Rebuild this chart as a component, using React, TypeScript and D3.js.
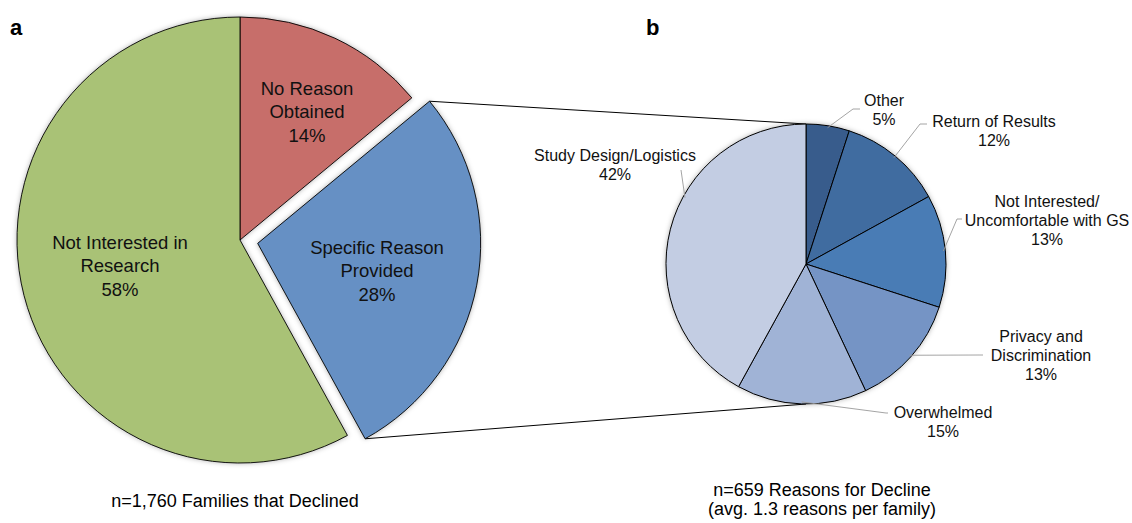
import React from 'react';
import * as d3 from 'd3';

// panel a
const declineGroups = ['No Reason\nObtained', 'Specific Reason\nProvided', 'Not Interested in\nResearch'];
const declineShares = [14, 28, 58];
const declineColors = ['#c76e6b', '#6690c4', '#a9c276'];

// panel b
const reasonLabels = [
  'Other',
  'Return of Results',
  'Not Interested/\nUncomfortable with GS',
  'Privacy and\nDiscrimination',
  'Overwhelmed',
  'Study Design/Logistics',
];
const reasonShares = [5, 12, 13, 13, 15, 42];
const reasonColors = ['#395c8c', '#416ca0', '#4a7bb5', '#7594c5', '#a0b3d6', '#c3cde3'];

const W = 1132;
const H = 523;
const FONT = '"Liberation Sans", Arial, Helvetica, sans-serif';

// layout of pie a
const A = { cx: 240, cy: 240, r: 223, explode: 18 };
// layout of pie b
const B = { cx: 806, cy: 264, r: 140 };

// label placement for panel a (centre of first line)
const aLabelPos = [
  [307, 88],
  [377, 247],
  [120, 242],
];

// label placement for panel b: text centre x, first baseline y, elbow point
const bLabelPos = [
  { x: 884, y: 106, elbow: [853, 109], end: [860, 109] },
  { x: 994, y: 127, elbow: [920, 124], end: [927, 124] },
  { x: 1047, y: 207, elbow: [957, 219], end: [962, 219] },
  { x: 1041, y: 342, elbow: [980, 355], end: [983, 355] },
  { x: 943, y: 418, elbow: [886, 413], end: [888, 413] },
  { x: 615, y: 161, elbow: [681, 170], end: [681, 170] },
];

const polar = (cx: number, cy: number, r: number, a: number): [number, number] => [
  cx + r * Math.sin(a),
  cy - r * Math.cos(a),
];

export default function App() {
  const pie = d3.pie<number>().sort(null).value((d) => d);
  const arcsA = pie(declineShares);
  const arcsB = pie(reasonShares);

  const arcA = d3.arc<d3.PieArcDatum<number>>().innerRadius(0).outerRadius(A.r);
  const arcB = d3.arc<d3.PieArcDatum<number>>().innerRadius(0).outerRadius(B.r);

  // exploded slice (specific reason)
  const ex = arcsA[1];
  const exMid = (ex.startAngle + ex.endAngle) / 2;
  const [ox, oy] = polar(0, 0, A.explode, exMid);
  const exTop = polar(A.cx + ox, A.cy + oy, A.r, ex.startAngle);
  const exBot = polar(A.cx + ox, A.cy + oy, A.r, ex.endAngle);
  const bTop = polar(B.cx, B.cy, B.r, 0);
  const bBot = polar(B.cx, B.cy, B.r, Math.PI);

  return (
    <svg
      width={W}
      height={H}
      style={{ position: 'absolute', left: 0, top: 0, background: '#fff' }}
      fontFamily={FONT}
    >
      <defs>
        <filter id="shadow" x="-10%" y="-10%" width="120%" height="120%">
          <feDropShadow dx="0" dy="0" stdDeviation="2.5" floodColor="#000" floodOpacity="0.3" />
        </filter>
      </defs>

      <text x={10} y={35} fontSize={22} fontWeight="bold">a</text>
      <text x={646} y={35} fontSize={22} fontWeight="bold">b</text>

      {/* connector lines */}
      <line x1={exTop[0]} y1={exTop[1]} x2={bTop[0]} y2={bTop[1]} stroke="#000" strokeWidth={1} />
      <line x1={exBot[0]} y1={exBot[1]} x2={bBot[0]} y2={bBot[1]} stroke="#000" strokeWidth={1} />

      {/* pie a */}
      <g transform={`translate(${A.cx},${A.cy})`} filter="url(#shadow)">
        {arcsA.map((d, i) => {
          const mid = (d.startAngle + d.endAngle) / 2;
          const [dx, dy] = i === 1 ? polar(0, 0, A.explode, mid) : [0, 0];
          return (
            <path
              key={i}
              d={arcA(d) as string}
              transform={`translate(${dx},${dy})`}
              fill={declineColors[i]}
              stroke="#000"
              strokeWidth={0.9}
            />
          );
        })}
      </g>
      {declineGroups.map((g, i) => {
        const lines = [...g.split('\n'), `${declineShares[i]}%`];
        const [x, y] = aLabelPos[i];
        return (
          <text key={i} x={x} textAnchor="middle" fontSize={18.5} fill="#111">
            {lines.map((l, j) => (
              <tspan key={j} x={x} y={y + 6.5 + j * 23.5}>{l}</tspan>
            ))}
          </text>
        );
      })}
      <text x={235} y={507} textAnchor="middle" fontSize={18}>n=1,760 Families that Declined</text>

      {/* pie b */}
      <g transform={`translate(${B.cx},${B.cy})`} filter="url(#shadow)">
        {arcsB.map((d, i) => (
          <path key={i} d={arcB(d) as string} fill={reasonColors[i]} stroke="#000" strokeWidth={1} />
        ))}
      </g>
      {arcsB.map((d, i) => {
        const mid = (d.startAngle + d.endAngle) / 2;
        const p = bLabelPos[i];
        const start = polar(B.cx, B.cy, B.r - 2, i === 5 ? mid + 0.25 : mid);
        const lines = [...reasonLabels[i].split('\n'), `${reasonShares[i]}%`];
        return (
          <g key={i}>
            <polyline
              points={[start, p.elbow, p.end].map((q) => q.join(',')).join(' ')}
              fill="none"
              stroke="#9a9a9a"
              strokeWidth={0.9}
            />
            <text x={p.x} textAnchor="middle" fontSize={16} fill="#111">
              {lines.map((l, j) => (
                <tspan key={j} x={p.x} y={p.y + j * 19}>{l}</tspan>
              ))}
            </text>
          </g>
        );
      })}
      <text x={822} textAnchor="middle" fontSize={18}>
        <tspan x={822} y={496}>n=659 Reasons for Decline</tspan>
        <tspan x={822} y={515}>(avg. 1.3 reasons per family)</tspan>
      </text>
    </svg>
  );
}
